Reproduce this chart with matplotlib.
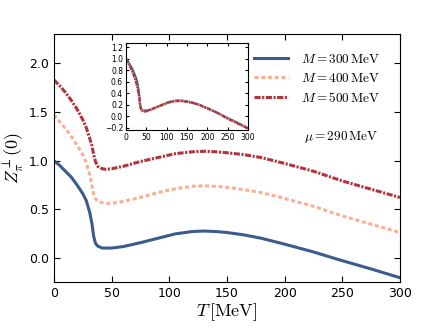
import matplotlib
matplotlib.use('Agg')
import matplotlib.pyplot as plt
import numpy as np

plt.rcParams['mathtext.fontset'] = 'cm'

# temperature grid (MeV)
T = [0, 5, 10, 15, 20, 25, 28, 31, 33, 34.5, 36, 38, 42, 45, 50, 60, 75, 90,
     105, 120, 130, 140, 150, 165, 180, 200, 225, 250, 275, 300]

# Z_pi^perp(0) for the three quark masses
z_m300 = [1.00, 0.95, 0.89, 0.83, 0.75, 0.66, 0.59, 0.47, 0.35, 0.22, 0.15, 0.12,
          0.10, 0.10, 0.10, 0.115, 0.155, 0.20, 0.245, 0.27, 0.275, 0.27, 0.26,
          0.235, 0.20, 0.14, 0.06, -0.03, -0.115, -0.205]
z_m400 = [1.47, 1.40, 1.33, 1.25, 1.16, 1.06, 0.98, 0.86, 0.74, 0.65, 0.61, 0.58,
          0.565, 0.56, 0.56, 0.58, 0.62, 0.67, 0.71, 0.735, 0.74, 0.735, 0.725,
          0.70, 0.67, 0.61, 0.53, 0.43, 0.345, 0.26]
z_m500 = [1.83, 1.77, 1.70, 1.62, 1.53, 1.42, 1.34, 1.23, 1.15, 1.06, 0.99, 0.94,
          0.915, 0.91, 0.915, 0.94, 0.99, 1.03, 1.07, 1.09, 1.095, 1.09, 1.08,
          1.06, 1.03, 0.97, 0.89, 0.79, 0.705, 0.62]

labels = [r'$M = 300\,\mathrm{MeV}$', r'$M = 400\,\mathrm{MeV}$', r'$M = 500\,\mathrm{MeV}$']
colors = ['#3b5b8f', '#fcae91', '#b2333b']
styles = [dict(linestyle='-'), dict(dashes=(1.3, 0.9)), dict(dashes=(2.0, 0.5, 0.7, 0.5))]
series = [z_m300, z_m400, z_m500]

fig = plt.figure(figsize=(4.21, 3.28), dpi=100)
ax = fig.add_axes([0.128, 0.140, 0.822, 0.756])

for z, c, s, lab in zip(series, colors, styles, labels):
    ax.plot(T, z, color=c, linewidth=2.2, label=lab, **s)

ax.set_xlim(0, 300)
ax.set_ylim(-0.25, 2.3)
ax.set_xticks(range(0, 301, 50))
ax.set_yticks([0.0, 0.5, 1.0, 1.5, 2.0])
ax.tick_params(direction='in', top=True, right=True, labelsize=9, length=4)
ax.set_xlabel(r'$T\,[\mathrm{MeV}]$', fontsize=13, labelpad=1)
ax.set_ylabel(r'$Z_\pi^\perp(0)$', fontsize=13, labelpad=2)

ax.legend(loc='upper right', bbox_to_anchor=(0.977, 0.972), frameon=False,
          fontsize=9.5, handlelength=2.6, labelspacing=0.45, handletextpad=1.0)
ax.text(0.936, 0.585, r'$\mu = 290\,\mathrm{MeV}$', transform=ax.transAxes,
        ha='right', va='center', fontsize=9.5)

# inset: curves shifted to start at 1
ins = fig.add_axes([0.299, 0.604, 0.290, 0.265])
for z, c, s in zip(series, colors, styles):
    zs = np.array(z) - z[0] + 1.0
    ins.plot(T, zs, color=c, linewidth=1.6, **s)
ins.set_xlim(0, 300)
ins.set_ylim(-0.235, 1.27)
ins.set_xticks(range(0, 301, 50))
ins.set_yticks(np.arange(-0.2, 1.21, 0.2))
ins.tick_params(direction='in', top=True, right=True, labelsize=5.5, length=2.5, pad=2)

fig.savefig('out.png', dpi=100)
